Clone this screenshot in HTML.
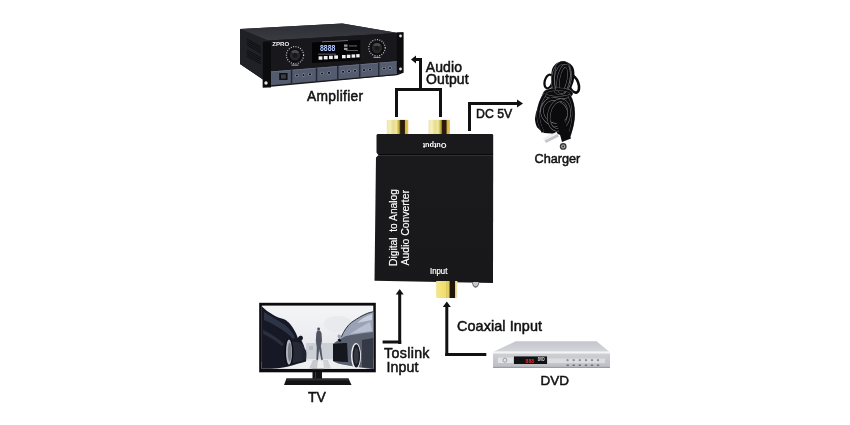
<!DOCTYPE html>
<html><head><meta charset="utf-8">
<style>
html,body{margin:0;padding:0;background:#fff;width:850px;height:425px;overflow:hidden}
svg{display:block;will-change:transform}
text{font-family:"Liberation Sans",sans-serif;fill:#111}
.l{fill:#111;stroke:#111;stroke-width:0.5}
</style></head>
<body>
<svg width="850" height="425" viewBox="0 0 850 425">
<defs>
<linearGradient id="gold" x1="0" x2="1" y1="0" y2="0">
<stop offset="0" stop-color="#efe6b0"/>
<stop offset="0.15" stop-color="#f5efc0"/>
<stop offset="0.3" stop-color="#e8dd88"/>
<stop offset="0.45" stop-color="#efe6a4"/>
<stop offset="0.55" stop-color="#c8b040"/>
<stop offset="0.62" stop-color="#8a7020"/>
<stop offset="0.64" stop-color="#2a1c0c"/>
<stop offset="0.82" stop-color="#2a1c0c"/>
<stop offset="0.86" stop-color="#d8b040"/>
<stop offset="1" stop-color="#e8c860"/>
</linearGradient>
<linearGradient id="gold2" x1="0" x2="1" y1="0" y2="0">
<stop offset="0" stop-color="#efe298"/>
<stop offset="0.1" stop-color="#f4e680"/>
<stop offset="0.45" stop-color="#f0dc70"/>
<stop offset="0.5" stop-color="#d8c050"/>
<stop offset="0.56" stop-color="#f0dc78"/>
<stop offset="0.62" stop-color="#c8a830"/>
<stop offset="0.645" stop-color="#20160a"/>
<stop offset="0.88" stop-color="#20160a"/>
<stop offset="0.91" stop-color="#e0d080"/>
<stop offset="1" stop-color="#f4eec0"/>
</linearGradient>
<linearGradient id="body" x1="0" x2="0" y1="0" y2="1">
<stop offset="0" stop-color="#1a1a1c"/>
<stop offset="1" stop-color="#18181a"/>
</linearGradient>
<linearGradient id="amptop" x1="0" x2="0" y1="0" y2="1">
<stop offset="0" stop-color="#2e2f35"/>
<stop offset="1" stop-color="#3a3b42"/>
</linearGradient>
<linearGradient id="sky" x1="0" x2="0" y1="0" y2="1">
<stop offset="0" stop-color="#f4f5f7"/>
<stop offset="0.4" stop-color="#eceef1"/>
<stop offset="0.75" stop-color="#e4e6ea"/>
<stop offset="1" stop-color="#e8e9ec"/>
</linearGradient>
<linearGradient id="dvdtop" x1="0" x2="0" y1="0" y2="1">
<stop offset="0" stop-color="#c4c6cc"/>
<stop offset="1" stop-color="#d4d6da"/>
</linearGradient>
<linearGradient id="dvdfront" x1="0" x2="0" y1="0" y2="1">
<stop offset="0" stop-color="#cfd0d4"/>
<stop offset="1" stop-color="#bcbec4"/>
</linearGradient>
</defs>

<!-- ============ AMPLIFIER ============ -->
<g id="amp">
<polygon points="240,29 342,23.5 398,33 403.4,32.3 403.4,72.7 398,75 271,86.8 262.8,87.4 262.8,79.5 240,64" fill="#1a1a1e"/>
<!-- top surface -->
<polygon points="240,29 342.8,23.6 398,33 268,40.6" fill="url(#amptop)"/>
<polygon points="268,40.6 398,33 398,34.2 268,41.8" fill="#1b1c20"/>
<!-- left side face -->
<polygon points="240,29 268,40.6 263,42 263,79.5 240,64" fill="#202126"/>
<g stroke="#0b0b0d" stroke-width="0.9">
<line x1="247" y1="39" x2="261" y2="47"/>
<line x1="247" y1="41" x2="261" y2="49"/>
<line x1="247" y1="43" x2="261" y2="51"/>
<line x1="247" y1="45" x2="261" y2="53"/>
<line x1="247" y1="50" x2="261" y2="58"/>
<line x1="247" y1="52" x2="261" y2="60"/>
<line x1="247" y1="54" x2="261" y2="62"/>
<line x1="247" y1="56" x2="261" y2="64"/>
</g>
<!-- front panel -->
<polygon points="264,42 398,33 398,75 264,86.6" fill="#18181c"/>
<!-- bottom gray strip -->
<polygon points="271,71.4 397,61.2 397,74 271,85.2" fill="#535b6e"/>
<polygon points="271,71.4 397,61.2 397,62 271,72.2" fill="#6a7286"/>
<g fill="#262a34">
<polygon points="290.8,69.8 292.3,69.7 292.3,83.4 290.8,83.6"/>
<polygon points="315.8,67.8 317.3,67.7 317.3,81.3 315.8,81.5"/>
<polygon points="337,66.1 338.5,66 338.5,79.5 337,79.7"/>
<polygon points="359,64.3 360.5,64.2 360.5,77.7 359,77.9"/>
<polygon points="378,62.8 379.5,62.7 379.5,76.1 378,76.3"/>
</g>
<rect x="279.2" y="73" width="8.4" height="7" fill="#111"/>
<rect x="281" y="74.5" width="4.8" height="4" fill="#3a3e48"/>
<g><circle cx="297" cy="75.5" r="1.7" fill="#8a92a4"/><circle cx="297" cy="75.5" r="1.1" fill="#121318"/><circle cx="303.5" cy="75.0" r="1.7" fill="#8a92a4"/><circle cx="303.5" cy="75.0" r="1.1" fill="#121318"/><circle cx="310" cy="74.4" r="1.7" fill="#8a92a4"/><circle cx="310" cy="74.4" r="1.1" fill="#121318"/><circle cx="322" cy="73.5" r="1.7" fill="#8a92a4"/><circle cx="322" cy="73.5" r="1.1" fill="#121318"/><circle cx="329" cy="72.9" r="1.7" fill="#8a92a4"/><circle cx="329" cy="72.9" r="1.1" fill="#121318"/><circle cx="343" cy="71.8" r="1.7" fill="#8a92a4"/><circle cx="343" cy="71.8" r="1.1" fill="#121318"/><circle cx="349" cy="71.3" r="1.7" fill="#8a92a4"/><circle cx="349" cy="71.3" r="1.1" fill="#121318"/><circle cx="355" cy="70.8" r="1.7" fill="#8a92a4"/><circle cx="355" cy="70.8" r="1.1" fill="#121318"/><circle cx="364" cy="70.1" r="1.7" fill="#8a92a4"/><circle cx="364" cy="70.1" r="1.1" fill="#121318"/><circle cx="370" cy="69.6" r="1.7" fill="#8a92a4"/><circle cx="370" cy="69.6" r="1.1" fill="#121318"/><circle cx="384" cy="68.5" r="1.7" fill="#8a92a4"/><circle cx="384" cy="68.5" r="1.1" fill="#121318"/><circle cx="390" cy="68.0" r="1.7" fill="#8a92a4"/><circle cx="390" cy="68.0" r="1.1" fill="#121318"/></g>
<!-- ears -->
<polygon points="262.8,42 271,41.5 271,87.4 262.8,87.4" fill="#0c0c0f"/>
<polygon points="396.8,32.3 403.4,32.3 403.4,72.7 396.8,72.7" fill="#0c0c0f"/>
<circle cx="266" cy="83" r="1.7" fill="#e6e6e6"/>
<circle cx="400.5" cy="36" r="1.4" fill="#e6e6e6"/>
<circle cx="400.5" cy="69" r="1.4" fill="#e6e6e6"/>
<!-- display window -->
<polygon points="312,42.4 360.3,40 360.3,60 312,63" fill="#040406"/>
<text x="320" y="50.8" style="font-size:8.3px;font-weight:bold;fill:#b4c8ff" textLength="15.4" lengthAdjust="spacingAndGlyphs">8888</text>
<g fill="#f0f0f2">
<rect x="318.6" y="56.3" width="3.8" height="3.4"/><rect x="323.8" y="56" width="3.8" height="3.4"/>
<rect x="329" y="55.7" width="3.8" height="3.4"/><rect x="334.2" y="55.4" width="3.8" height="3.4"/>
<rect x="342" y="55" width="3.6" height="3.3"/><rect x="346.8" y="54.7" width="3.6" height="3.3"/>
<rect x="351.6" y="54.4" width="3.6" height="3.3"/><rect x="356.2" y="54.1" width="3.4" height="3.3"/>
</g>
<g fill="#9a9aa0">
<rect x="344" y="44.5" width="3.5" height="2.2"/><rect x="344" y="47.8" width="3.5" height="2.2"/>
<rect x="349" y="45.6" width="8" height="0.7"/><rect x="346" y="50.3" width="12" height="0.6"/>
<rect x="318" y="53.8" width="18" height="0.6"/>
</g>
<polygon points="322,41.6 348,40.2 348,40.9 322,42.3" fill="#8a8a90"/>

<!-- knobs -->
<circle cx="295" cy="55.2" r="8.6" fill="none" stroke="#d8d8dc" stroke-width="1.1" stroke-dasharray="0.9 1.5"/>
<circle cx="295" cy="55.2" r="6.8" fill="#0c0c0e"/>
<circle cx="295" cy="55.2" r="5.4" fill="#26262b"/>
<path d="M291,51.5 A5.4,5.4 0 0 1 299,52 L295,55.2 Z" fill="#4a4a50"/>
<circle cx="295" cy="55.2" r="2.5" fill="#18181b"/>
<rect x="291.5" y="64.6" width="7" height="1" fill="#a8a8ae"/>
<circle cx="377" cy="47.8" r="8.2" fill="none" stroke="#d8d8dc" stroke-width="1.1" stroke-dasharray="0.9 1.5"/>
<circle cx="377" cy="48.1" r="6.8" fill="#0c0c0e"/>
<circle cx="377" cy="48.1" r="5.3" fill="#26262b"/>
<path d="M373,44.5 A5.3,5.3 0 0 1 381,45 L377,48.1 Z" fill="#4a4a50"/>
<circle cx="377" cy="48.1" r="2.4" fill="#18181b"/>
<rect x="373.5" y="56.9" width="7" height="1" fill="#a8a8ae"/>
<text x="272.3" y="46.3" style="font-size:5.5px;font-weight:bold;fill:#f0f0f0" textLength="17" lengthAdjust="spacingAndGlyphs">ZPRO</text>
</g>
<text x="307" y="100.6" style="font-size:13.8px;letter-spacing:0.3px;stroke:#111;stroke-width:0.5">Amplifier</text>

<!-- ============ AUDIO OUTPUT ARROW ============ -->
<g fill="#111">
<rect x="419" y="58" width="3" height="31"/>
<rect x="414" y="58" width="8" height="3"/>
<polygon points="411,59.5 416,55.5 416,63.5"/>
<rect x="395" y="88" width="47" height="3"/>
<rect x="395" y="88" width="3" height="29"/>
<rect x="439" y="88" width="3" height="29"/>
</g>
<text class="l" x="425.8" y="71.6" style="font-size:14px;letter-spacing:0.08px">Audio</text>
<text class="l" x="426" y="84.4" style="font-size:14px;letter-spacing:0.12px">Output</text>

<!-- ============ DC 5V ARROW ============ -->
<g fill="#111">
<rect x="468" y="102" width="3" height="29"/>
<rect x="468" y="102" width="51" height="3"/>
<polygon points="523,103.5 517,99.5 517,107.5"/>
</g>
<text class="l" x="476" y="117.7" style="font-size:12.3px">DC 5V</text>

<!-- ============ CHARGER ============ -->
<g id="charger">
<g fill="none">
<ellipse cx="573.6" cy="84" rx="4.8" ry="9" transform="rotate(-20 573.6 84)" stroke="#0b0b0d" stroke-width="2.6"/>
<ellipse cx="548.6" cy="81.5" rx="3.9" ry="7.0" transform="rotate(15 548.6 81.5)" stroke="#0b0b0d" stroke-width="2.3"/>
</g>
<path d="M553,96 C552,91 551,86 551,82 C551,77 551.2,73 552,69.5 C553.5,65 557,62 562,61.2 C567,61 571,63.5 573,67 C575,71 574.8,77 573.5,82 C572.2,86 570,90 568.5,96 Z" fill="#0b0b0d"/>
<ellipse cx="558" cy="93.5" rx="14.5" ry="5.5" fill="#0b0b0d"/>
<path d="M543.4,92 C550,90 562,90 568.1,92 C570,97 572,102 572.6,106 C573.6,110 574,114 573.8,116 C573.5,119 572.8,121 572.4,123 L571,135.8 L568,138.6 L558,134 L544.1,133 C541,131 538.5,129 537,127.3 C535.5,124 535,121 535,118.8 C535.5,113 537,109 538.5,106 C540,101 541.5,96 543.4,92 Z" fill="#0b0b0d"/>
<g fill="none">
<ellipse cx="561.5" cy="78" rx="8.5" ry="15.5" transform="rotate(8 561.5 78)" stroke="#8a8a90" stroke-width="3.4"/><ellipse cx="561.5" cy="78" rx="8.5" ry="15.5" transform="rotate(8 561.5 78)" stroke="#0b0b0d" stroke-width="2.6"/>
<ellipse cx="563.5" cy="79" rx="5" ry="13.5" transform="rotate(10 563.5 79)" stroke="#8a8a90" stroke-width="3.1"/><ellipse cx="563.5" cy="79" rx="5" ry="13.5" transform="rotate(10 563.5 79)" stroke="#0b0b0d" stroke-width="2.4"/>
<ellipse cx="558" cy="93.5" rx="13.5" ry="4.2" transform="rotate(0 558 93.5)" stroke="#8a8a90" stroke-width="3.1"/><ellipse cx="558" cy="93.5" rx="13.5" ry="4.2" transform="rotate(0 558 93.5)" stroke="#0b0b0d" stroke-width="2.4"/>
<ellipse cx="555.5" cy="112" rx="14" ry="12.5" transform="rotate(35 555.5 112)" stroke="#8a8a90" stroke-width="3.4"/><ellipse cx="555.5" cy="112" rx="14" ry="12.5" transform="rotate(35 555.5 112)" stroke="#0b0b0d" stroke-width="2.6"/>
<ellipse cx="559" cy="115" rx="10" ry="15" transform="rotate(12 559 115)" stroke="#8a8a90" stroke-width="3.1"/><ellipse cx="559" cy="115" rx="10" ry="15" transform="rotate(12 559 115)" stroke="#0b0b0d" stroke-width="2.4"/>
<path d="M545,94 C538,104 535,118 543,132" stroke="#8a8a90" stroke-width="3.1"/><path d="M545,94 C538,104 535,118 543,132" stroke="#0b0b0d" stroke-width="2.6"/>
<path d="M569,95 C575,106 575,120 569,136" stroke="#8a8a90" stroke-width="3.1"/><path d="M569,95 C575,106 575,120 569,136" stroke="#0b0b0d" stroke-width="2.6"/>
</g>
<g fill="none" stroke="#7a7c84" stroke-width="0.6">
<path d="M556,67 C554,74 554,82 555.5,90"/>
<path d="M569,66 C571,72 571,78 569,84"/>
<path d="M540,112 C541,106 544,101 548,98"/>
</g>
<polygon points="543.5,138.5 556.5,132 559,136.6 546,143" fill="#c6c6ca"/>
<polygon points="543.5,138.5 556.5,132 557.6,134 544.6,140.5" fill="#f2f2f4"/>
<polygon points="556,120 564,119 571,138.6 562,142" fill="#0b0b0d"/>
<circle cx="563.2" cy="146.4" r="3.4" fill="#3a3a3e"/>
<circle cx="563.2" cy="146.4" r="2" fill="#b0b0b4"/>
<circle cx="563.2" cy="146.4" r="0.9" fill="#222"/>
</g>
<text class="l" x="534.5" y="162.9" style="font-size:12.7px">Charger</text>

<!-- ============ CONVERTER ============ -->
<rect x="386.8" y="119.9" width="21.5" height="14.5" fill="url(#gold)"/>
<rect x="428.5" y="119.9" width="21.5" height="14.5" fill="url(#gold)"/>
<polygon points="376.5,135 377.5,134 492.5,134 493.2,135 493.2,154 376.5,154" fill="#1a1a1c"/>
<rect x="376" y="154" width="117.2" height="1.8" fill="#08080a"/>
<polygon points="376,155.8 493.2,155.8 493,283 374.5,280.8" fill="url(#body)"/>
<polygon points="375.5,151.8 378.5,154.9 375.5,158" fill="#fff"/>
<text transform="translate(434.6,142.6) rotate(180)" text-anchor="middle" style="font-size:8px;fill:#fff;font-weight:bold" textLength="23.7" lengthAdjust="spacingAndGlyphs">Output</text>
<text transform="translate(396.8,266) rotate(-90)" style="font-size:10px;fill:#fff;stroke:#fff;stroke-width:0.15;white-space:pre" xml:space="preserve" textLength="77" lengthAdjust="spacingAndGlyphs">Digital  to Analog</text>
<text transform="translate(409,265.4) rotate(-90)" style="font-size:10px;fill:#fff;stroke:#fff;stroke-width:0.15" textLength="75.4" lengthAdjust="spacingAndGlyphs">Audio Converter</text>
<text x="430" y="274.4" style="font-size:8.3px;fill:#fff;stroke:#fff;stroke-width:0.2" textLength="17.4" lengthAdjust="spacingAndGlyphs">Input</text>
<path d="M436.2,281 L457.4,281 L457.4,296.5 Q457.4,298 455.6,298 L438,298 Q436.2,298 436.2,296.5 Z" fill="url(#gold2)"/>
<path d="M472,282 A3.65,5.7 0 0 0 479.3,282 Z" fill="#6a6a70"/>
<path d="M473,282 A2.65,4.2 0 0 0 478.3,282 Z" fill="#c8c8cc"/>
<!-- ============ TOSLINK ARROW ============ -->
<g fill="#111">
<rect x="398.2" y="292" width="3" height="52"/>
<rect x="382.6" y="340.5" width="18.6" height="3"/>
<polygon points="399.7,289 395.7,294.5 403.7,294.5"/>
</g>
<text class="l" x="384" y="358.4" style="font-size:14.2px;letter-spacing:0.35px">Toslink</text>
<text class="l" x="386.4" y="371.5" style="font-size:14.2px;letter-spacing:0.1px">Input</text>

<!-- ============ COAX ARROW ============ -->
<g fill="#111">
<rect x="445.3" y="304" width="3" height="52"/>
<rect x="445.3" y="353" width="41" height="3"/>
<polygon points="446.8,301.5 442.8,307 450.8,307"/>
</g>
<text class="l" x="457" y="331.3" style="font-size:14.4px;letter-spacing:0.08px">Coaxial Input</text>

<!-- ============ TV ============ -->
<g id="tv">
<rect x="259.2" y="302.8" width="116.6" height="69.5" fill="#0c0c0e"/>
<rect x="261.8" y="305.6" width="111.5" height="63.2" fill="url(#sky)"/>
<svg x="261.8" y="305.6" width="111.5" height="63.2" viewBox="261.8 305.6 111.5 63.2" overflow="hidden">
<!-- clouds -->
<ellipse cx="338" cy="324" rx="14" ry="8" fill="#e8eaed"/>

<!-- distant buildings -->
<rect x="306" y="343" width="28" height="16" fill="#cdd0d6"/>
<rect x="309" y="346" width="4" height="4" fill="#b8bcc4"/>
<rect x="318" y="348" width="4" height="4" fill="#b8bcc4"/>
<!-- road -->
<polygon points="261.8,362 373.3,359 373.3,368.8 261.8,368.8" fill="#eeeff1"/>
<polygon points="313,360 318,360 317,368.8 309,368.8" fill="#c8cacf"/>
<polygon points="323,360 328,360 331,368.8 324,368.8" fill="#d0d2d6"/>
<!-- left car -->
<path d="M261.8,305.6 L262.2,306.7 C265,309 267,311 269,312.2 C272,314 274,315.5 276.6,316.8 C279,318 281,318.5 283.4,319 C286,320 287,321 288.5,322.3 C290,324 291.5,325.5 292.7,327.4 C294,329.5 295,331.5 296.1,333.4 L297.8,338 C299,336 300,335.5 301.5,335.8 C303,336.5 303.5,338 302.5,339.5 L301.5,340.5 C303,343 304.5,347 305.5,352 C306,356 306.5,359 306,361.5 C300,363 295,364.5 290,366 C283,368 275,368.8 261.8,368.8 Z" fill="#161925"/>
<path d="M264,312 C270,316 278,320 285,325 C290,329 293,333 295,338 L293,339 C289,334 283,330 276,326 C271,323 267,321 264,320 Z" fill="#2e3446"/>
<path d="M263,330 C270,333 278,338 284,344 L282,346 C276,341 270,337 263,334 Z" fill="#2a2f3e"/>
<path d="M291,342 C296,341 301,342 304,346 L305,360 L293,363 Z" fill="#262a36"/>
<ellipse cx="288.9" cy="352.1" rx="4.6" ry="13.5" fill="#0c0d12"/>
<ellipse cx="289" cy="352.1" rx="3" ry="12.5" fill="#b4b9c2"/>
<ellipse cx="289.6" cy="352.1" rx="1.8" ry="9.5" fill="#7a7f8a"/>
<ellipse cx="304" cy="354.6" rx="2.5" ry="6" fill="#202330"/>
<!-- woman -->
<circle cx="318.6" cy="329" r="1.4" fill="#4a4e58"/>
<path d="M317.3,330.5 L320,330.5 L321.5,333 L322,341 L320.8,346 L322.8,360 L321.4,360.3 L319.1,349 L318,360.3 L316.4,360 L316.8,347 L315.8,341 L316.3,333 Z" fill="#50545e"/>
<!-- right car -->
<path d="M373.3,311.7 C370,312 368,312.5 366.8,313 C363,314.5 361,316 358.4,317.7 C356,319.5 354,321 351.6,322.3 C349.5,324 348,325.5 346.5,327.4 C345,329.5 344,331.5 343.1,333.4 L341.4,336.7 C340.5,334.5 339,334 338,334.8 C337,336 337.5,337.5 339,338.5 L340,340 C338,341 336,342 334,343 L333,344 L333,361 C336,363 340,364 346,365 C355,367 364,368 373.3,368.8 Z" fill="#9aa2b6"/>
<path d="M373.3,311.7 C366,313 358,318 351.6,322.3 C347,326 344,331 341.4,336.7" fill="none" stroke="#1e222e" stroke-width="0.9"/>
<path d="M372,314 C366,316 361,319 357,323 C362,322 367,321 372,320 Z" fill="#c8cedc"/>
<path d="M370,322 C362,326 356,330 350,334 L372,331 Z" fill="#b8bfd0"/>
<path d="M346,336 C355,334 364,333 373.3,332 L373.3,368.8 C364,368 355,367 346,365 C340,364 336,363 333,361 L333,344 C337,341 341,338 346,336 Z" fill="#5a5f6e"/>
<path d="M333,344 C338,343 343,343 347,343 L348,362 C343,362 338,361.5 333,361 Z" fill="#15171e"/>
<path d="M362,340 C366,339 370,339 373.3,338 L373.3,368.8 L362,367 Z" fill="#353945"/>
<ellipse cx="356" cy="355.9" rx="5" ry="12.9" fill="#eceef2"/>
<ellipse cx="356.3" cy="355.9" rx="3.8" ry="11.6" fill="#1a1c24"/>
<ellipse cx="356.3" cy="356" rx="2.4" ry="8" fill="#343844"/>
<path d="M339,338.5 L341.5,340.5 L340,342 L337.5,340 Z" fill="#0b0c10"/>
</svg>
<rect x="312" y="368.8" width="12" height="1" fill="#2a2a2e"/>
<rect x="312.5" y="371.7" width="9.5" height="7.5" fill="#121214"/>
<rect x="315" y="372" width="1" height="6.5" fill="#3a3a3e"/>
<polygon points="286.5,378.5 348.5,378.5 351.5,385 284,385" fill="#131315"/>
<polygon points="286.5,378.5 348.5,378.5 349.3,380.5 285.6,380.5" fill="#2c2c30"/>
</g>
<text class="l" x="307.9" y="402" style="font-size:14px">TV</text>

<!-- ============ DVD ============ -->
<g id="dvd">
<polygon points="515.8,341.2 596.5,341.2 609.4,351.8 493.4,351.8" fill="url(#dvdtop)"/>
<rect x="493.2" y="351.6" width="116.6" height="2" fill="#f4f4f6"/>
<rect x="493" y="353.5" width="117" height="14.4" fill="url(#dvdfront)"/>
<rect x="493" y="366.8" width="117" height="1.2" fill="#9a9ca2"/>
<rect x="498" y="357.6" width="15" height="5.4" fill="#e2e3e6"/>
<rect x="548" y="358.5" width="57" height="4.6" fill="#dcdde0"/>
<rect x="514" y="356.4" width="33" height="7.6" fill="#121214"/>
<text x="525.6" y="363" style="font-size:6px;font-weight:bold;fill:#e03030" textLength="8.4" lengthAdjust="spacingAndGlyphs">888</text>
<text x="537.8" y="361" style="font-size:4.5px;font-weight:bold;fill:#e8e8e8" textLength="6.8" lengthAdjust="spacingAndGlyphs">DVD</text>
<circle cx="504.9" cy="360.2" r="2" fill="none" stroke="#8a8c92" stroke-width="0.8"/>
<g fill="#8a8c94">
<circle cx="567.6" cy="360.2" r="1.1"/><circle cx="573.7" cy="360.2" r="1.1"/><circle cx="579.8" cy="360.2" r="1.1"/>
<circle cx="586" cy="360.2" r="1.1"/><circle cx="592" cy="360.2" r="1.1"/><circle cx="598" cy="360.2" r="1.1"/>
</g>
<g fill="#5a5c62">
<rect x="566.5" y="364.6" width="2.4" height="1.2"/><rect x="572.5" y="364.6" width="2.4" height="1.2"/><rect x="578.6" y="364.6" width="2.4" height="1.2"/>
<rect x="584.8" y="364.6" width="2.4" height="1.2"/><rect x="590.8" y="364.6" width="2.4" height="1.2"/><rect x="596.8" y="364.6" width="2.4" height="1.2"/>
</g>
</g>
<text class="l" x="540.6" y="385.2" style="font-size:13.5px">DVD</text>

</svg>
</body></html>
